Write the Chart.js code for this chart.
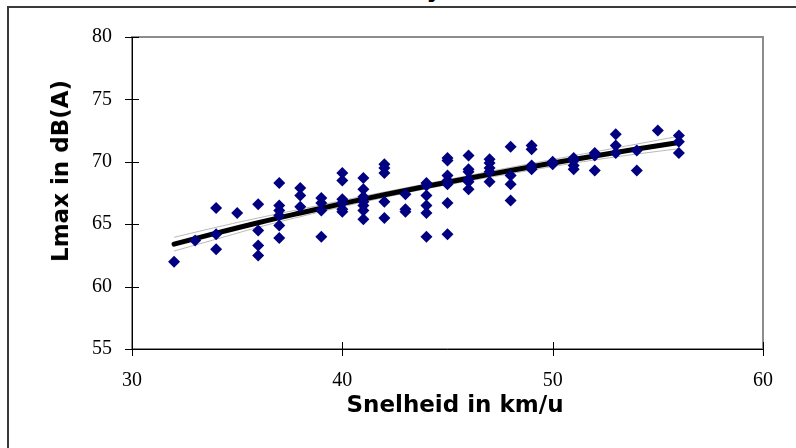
<!DOCTYPE html>
<html>
<head>
<meta charset="utf-8">
<script src="https://cdn.jsdelivr.net/npm/chart.js@4.4.1/dist/chart.umd.min.js"></script>
<style>
  html, body { margin: 0; padding: 0; background: #fff; }
  #wrap { position: relative; width: 796px; height: 448px; overflow: hidden; background: #fff; }
  #frame { position: absolute; left: 7px; top: 6px; width: 900px; height: 600px; border: 2px solid #3a3a3a; box-sizing: border-box; }
  #chart { position: absolute; left: 0; top: 0; }
  .lbl { position: absolute; font-family: "DejaVu Sans", Verdana, sans-serif; font-weight: bold; font-size: 23px; color: #000; white-space: nowrap; transform: translate(-50%, -50%); }
  #ytitle { left: 60px; top: 171px; transform: translate(-50%, -50%) rotate(-90deg); }
  #xtitle { left: 455px; top: 404px; }
  #toptitle { left: 434px; top: -11px; }
</style>
</head>
<body>
<div id="wrap">
  <div id="toptitle" class="lbl">y</div>
  <div id="frame"></div>
  <canvas id="chart" width="796" height="448"></canvas>
  <div id="ytitle" class="lbl">Lmax in dB(A)</div>
  <div id="xtitle" class="lbl">Snelheid in km/u</div>
</div>
<script>
// gemeten passages: snelheid (km/u) en Lmax (dB(A))
const speedValues = [
  32, 33, 34, 34, 34, 35, 36, 36, 36, 36,
  37, 37, 37, 37, 37, 37, 38, 38, 38, 39, 39, 39, 39,
  40, 40, 40, 40, 40, 40, 41, 41, 41, 41, 41, 41, 41,
  42, 42, 42, 42, 42, 43, 43, 43, 44, 44, 44, 44, 44, 44,
  45, 45, 45, 45, 45, 45, 45, 46, 46, 46, 46, 46, 46,
  47, 47, 47, 47, 47, 48, 48, 48, 48, 49, 49, 49, 49,
  50, 50, 51, 51, 51, 51, 52, 52, 52, 53, 53, 53, 54, 54, 55, 56, 56, 56
];
const lmaxValues = [
  62.0, 63.7, 66.3, 64.2, 63.0, 65.9, 66.6, 64.5, 63.3, 62.5,
  68.3, 66.5, 66.1, 65.7, 64.9, 63.9, 67.9, 67.3, 66.4, 67.1, 66.7, 66.1, 64.0,
  69.1, 68.5, 67.0, 66.7, 66.2, 66.0, 68.7, 67.8, 67.2, 66.8, 66.5, 66.1, 65.4,
  69.8, 69.5, 69.1, 66.8, 65.5, 67.4, 66.2, 66.0, 68.3, 68.1, 67.3, 66.5, 65.9, 64.0,
  70.3, 70.1, 68.9, 68.5, 68.2, 66.7, 64.2, 70.5, 69.4, 69.2, 68.6, 68.4, 67.8,
  70.2, 69.9, 69.5, 69.2, 68.4, 71.2, 68.9, 68.2, 66.9, 71.3, 71.0, 69.7, 69.4,
  70.0, 69.8, 70.3, 70.1, 69.7, 69.4, 70.7, 70.5, 69.3, 72.2, 71.3, 70.7, 70.9, 69.3, 72.5, 72.1, 71.6, 70.7
];

// trendlijn met betrouwbaarheidsband
const fitSpeeds = [32, 34, 36, 38, 40, 42, 44, 46, 48, 50, 52, 54, 56];
const fitValues = [63.40, 64.28, 65.12, 65.90, 66.65, 67.36, 68.04, 68.68, 69.30, 69.90, 70.47, 71.02, 71.55];
const upperValues = [63.95, 64.75, 65.50, 66.20, 66.90, 67.58, 68.24, 68.90, 69.55, 70.18, 70.80, 71.42, 72.05];
const lowerValues = [62.85, 63.80, 64.75, 65.60, 66.40, 67.14, 67.84, 68.46, 69.05, 69.62, 70.15, 70.62, 71.05];

const xTicks = [30, 40, 50, 60];
const yTicks = [55, 60, 65, 70, 75, 80];

const toXY = (xs, ys) => xs.map((x, i) => ({ x, y: ys[i] }));

// plot-rand, assen en kruisende tickstreepjes zoals in Excel
const axisFrame = {
  id: 'axisFrame',
  afterDatasetsDraw(chart) {
    const { ctx, chartArea: a, scales } = chart;
    ctx.save();
    ctx.strokeStyle = '#8c8c8c';
    ctx.lineWidth = 2;
    ctx.strokeRect(a.left, a.top, a.right - a.left, a.bottom - a.top);
    ctx.strokeStyle = '#000';
    ctx.lineWidth = 1;
    ctx.beginPath();
    ctx.moveTo(a.left + 0.5, a.top);
    ctx.lineTo(a.left + 0.5, a.bottom);
    ctx.moveTo(a.left, a.bottom + 0.5);
    ctx.lineTo(a.right, a.bottom + 0.5);
    yTicks.forEach(v => {
      const y = Math.round(scales.y.getPixelForValue(v)) + 0.5;
      ctx.moveTo(a.left - 7, y);
      ctx.lineTo(a.left + 7, y);
    });
    xTicks.forEach(v => {
      const x = Math.round(scales.x.getPixelForValue(v)) + 0.5;
      ctx.moveTo(x, a.bottom - 7);
      ctx.lineTo(x, a.bottom + 7);
    });
    ctx.stroke();
    ctx.restore();
  }
};

const tickFont = { family: '"Liberation Serif", "Times New Roman", serif', size: 20 };

new Chart(document.getElementById('chart'), {
  type: 'scatter',
  data: {
    datasets: [
      {
        label: 'Lmax',
        data: toXY(speedValues, lmaxValues),
        backgroundColor: '#000080',
        borderColor: '#000080',
        borderWidth: 0,
        pointStyle: 'rectRot',
        pointRadius: 6,
        order: 0
      },
      {
        label: 'trend',
        data: toXY(fitSpeeds, fitValues),
        showLine: true,
        borderColor: '#000',
        borderWidth: 5,
        pointRadius: 0,
        tension: 0.4,
        borderCapStyle: 'round',
        order: 1
      },
      {
        label: 'boven',
        data: toXY(fitSpeeds, upperValues),
        showLine: true,
        borderColor: '#b8b8b8',
        borderWidth: 1,
        pointRadius: 0,
        tension: 0.4,
        order: 2
      },
      {
        label: 'onder',
        data: toXY(fitSpeeds, lowerValues),
        showLine: true,
        borderColor: '#b8b8b8',
        borderWidth: 1,
        pointRadius: 0,
        tension: 0.4,
        order: 2
      }
    ]
  },
  options: {
    responsive: false,
    animation: false,
    layout: { padding: { left: 0, top: 37, right: 33, bottom: 0 } },
    plugins: { legend: { display: false }, tooltip: { enabled: false } },
    scales: {
      x: {
        min: 30, max: 60,
        afterFit: s => { s.height = 99; },
        afterBuildTicks: s => { s.ticks = xTicks.map(v => ({ value: v })); },
        ticks: { color: '#000', font: tickFont, padding: 12 },
        grid: { drawOnChartArea: false, tickLength: 8, color: 'rgba(0,0,0,0)' },
        border: { display: false }
      },
      y: {
        min: 55, max: 80,
        afterFit: s => { s.width = 132; },
        afterBuildTicks: s => { s.ticks = yTicks.map(v => ({ value: v })); },
        ticks: { color: '#000', font: tickFont, padding: 12 },
        grid: { drawOnChartArea: false, tickLength: 8, color: 'rgba(0,0,0,0)' },
        border: { display: false }
      }
    }
  },
  plugins: [axisFrame]
});
</script>
</body>
</html>
